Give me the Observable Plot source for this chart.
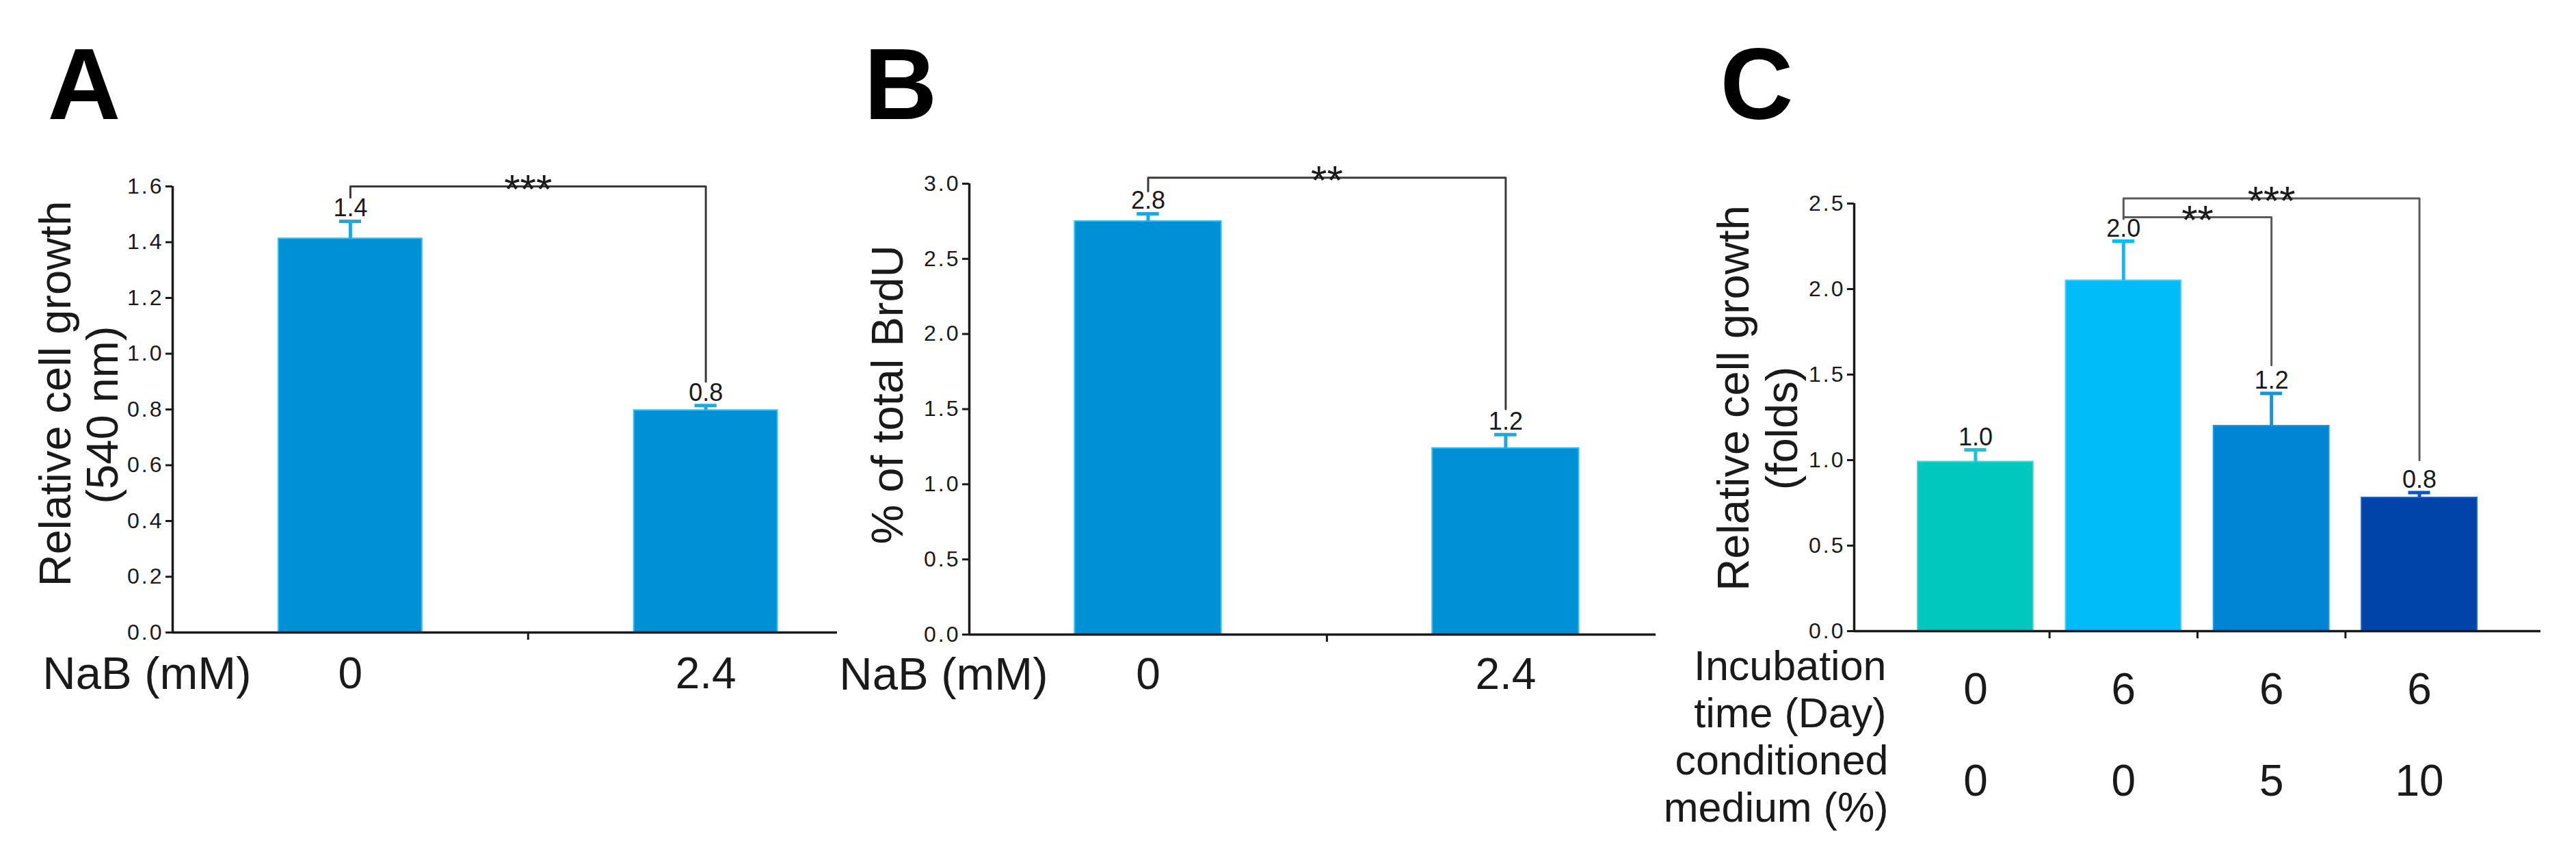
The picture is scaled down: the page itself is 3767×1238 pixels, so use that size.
<!DOCTYPE html>
<html>
<head>
<meta charset="utf-8">
<script src="https://cdn.jsdelivr.net/npm/d3@7"></script>
<script src="https://cdn.jsdelivr.net/npm/@observablehq/plot@0.6"></script>
<style>
  html, body { margin: 0; padding: 0; background: #ffffff; }
  #figure { position: relative; width: 3767px; height: 1238px; overflow: hidden; background: #ffffff; }
  #figure > svg { position: absolute; top: 0; }
  g[aria-label="y-axis tick label"] text { letter-spacing: 3px; }
</style>
</head>
<body>
<div id="figure"></div>
<script>
// ---------------- data ----------------
// Panel A
const aGroups = ["0", "2.4"];
const aValues = [1.413, 0.797];
const aErrors = [0.062, 0.017];
const aLabels = ["1.4", "0.8"];
const aTicks = [0, 0.2, 0.4, 0.6, 0.8, 1.0, 1.2, 1.4, 1.6];
const aTickLabels = ["0.0", "0.2", "0.4", "0.6", "0.8", "1.0", "1.2", "1.4", "1.6"];
const aBrackets = [{from: 0, to: 1, level: 1.6, leftEnd: 1.56, rightEnd: 0.90, stars: "***"}];
const aYTitle = ["Relative cell growth", "(540 nm)"];
const aXTitle = "NaB (mM)";

// Panel B
const bGroups = ["0", "2.4"];
const bValues = [2.75, 1.24];
const bErrors = [0.05, 0.09];
const bLabels = ["2.8", "1.2"];
const bTicks = [0, 0.5, 1.0, 1.5, 2.0, 2.5, 3.0];
const bTickLabels = ["0.0", "0.5", "1.0", "1.5", "2.0", "2.5", "3.0"];
const bBrackets = [{from: 0, to: 1, level: 3.04, leftEnd: 2.95, rightEnd: 1.50, stars: "**"}];
const bYTitle = ["% of total BrdU"];
const bXTitle = "NaB (mM)";

// Panel C
const cTime = ["0", "6", "6", "6"];
const cMedium = ["0", "0", "5", "10"];
const cValues = [0.99, 2.05, 1.20, 0.78];
const cErrors = [0.07, 0.23, 0.19, 0.03];
const cLabels = ["1.0", "2.0", "1.2", "0.8"];
const cTicks = [0, 0.5, 1.0, 1.5, 2.0, 2.5];
const cTickLabels = ["0.0", "0.5", "1.0", "1.5", "2.0", "2.5"];
const cBrackets = [
  {from: 1, to: 3, level: 2.53, leftEnd: 2.41, rightEnd: 1.00, stars: "***"},
  {from: 1, to: 2, level: 2.42, leftEnd: 2.42, rightEnd: 1.555, stars: "**"}
];
const cYTitle = ["Relative cell growth", "(folds)"];
const cRowTitles = ["Incubation\ntime (Day)", "conditioned\nmedium (%)"];

// ---------------- styles ----------------
const FONT = '"Liberation Sans", Arial, Helvetica, sans-serif';
const INK = "#1a1a1a";
const abFill = "#0090D5", abEdge = "#35C4F2", abErr = "#1EA8E2";
const cFills = ["#00C8BE", "#00BDFA", "#0084D4", "#0044AA"];
const cEdges = ["#3FD8D2", "#45D2FF", "#1A9CE6", "#2060C4"];
const cErrs = ["#14C6DA", "#00BFFF", "#1094E0", "#0A56C2"];

function drawPanel(cfg) {
  const data = cfg.values.map((v, i) => ({
    pos: cfg.pos(i), value: v, top: v + cfg.errors[i], label: cfg.labels[i],
    fill: cfg.fills[i], edge: cfg.edges[i], err: cfg.errColors[i]
  }));
  const paths = cfg.brackets.flatMap((b, k) => [
    {k, x: cfg.pos(b.from), y: b.leftEnd},
    {k, x: cfg.pos(b.from), y: b.level},
    {k, x: cfg.pos(b.to), y: b.level},
    {k, x: cfg.pos(b.to), y: b.rightEnd}
  ]);
  const hw = cfg.halfWidth, cap = cfg.capHalf;
  const marks = [
    Plot.rectY(data, {x1: d => d.pos - hw, x2: d => d.pos + hw, y1: 0, y2: "value",
      fill: "fill", stroke: "edge", strokeWidth: 2}),
    Plot.ruleX(data, {x: "pos", y1: "value", y2: "top", stroke: "err", strokeWidth: 5}),
    Plot.ruleY(data, {y: "top", x1: d => d.pos - cap, x2: d => d.pos + cap, stroke: "err", strokeWidth: 5}),
    Plot.ruleY([0], {stroke: INK, strokeWidth: 3.5}),
    Plot.ruleX([cfg.xDomain[0]], {stroke: INK, strokeWidth: 3.5}),
    Plot.axisY({ticks: cfg.yTicks, tickFormat: (d, i) => cfg.yTickLabels[i], tickSize: 10, tickPadding: 3,
      fontSize: 32, color: INK, strokeWidth: 3, label: null}),
    Plot.axisX({ticks: cfg.xTicks, tickFormat: () => "", tickSize: 11, color: INK, strokeWidth: 3, label: null}),
    Plot.line(paths, {x: "x", y: "y", z: "k", stroke: cfg.bracketColor, strokeWidth: 3}),
    Plot.text(cfg.brackets, {x: b => (cfg.pos(b.from) + cfg.pos(b.to)) / 2, y: "level", text: "stars",
      lineAnchor: "bottom", dy: 24, fontSize: 60, fill: INK}),
    Plot.text(data, {x: "pos", y: "top", text: "label", lineAnchor: "bottom", dy: -7, fontSize: 36, fill: INK}),
    Plot.text([cfg.letter], {frameAnchor: "top-left", text: d => d, textAnchor: "start", lineAnchor: "bottom",
      dx: cfg.letterDx, dy: cfg.letterDy, fontSize: 148, fontWeight: "bold", fill: "#000"})
  ];
  cfg.yTitle.forEach((t, j) => marks.push(
    Plot.text([t], {frameAnchor: "left", text: d => d, rotate: -90, textAnchor: "middle", lineAnchor: "bottom",
      dx: cfg.yTitleDx[j], dy: cfg.yTitleDy[j], fontSize: 65, fill: INK})
  ));
  cfg.rows.forEach(r => {
    marks.push(Plot.text(r.values, {x: (d, i) => cfg.pos(i), frameAnchor: "bottom", text: d => d,
      lineAnchor: "middle", dy: r.dy, fontSize: 64, fill: INK}));
    marks.push(Plot.text([r.title], {frameAnchor: "bottom-left", text: d => d, textAnchor: "end",
      lineAnchor: "middle", lineHeight: r.lineHeight || 1, dx: r.titleDx, dy: r.titleDy,
      fontSize: r.titleSize, fill: INK}));
  });
  const svg = Plot.plot({
    width: cfg.width, height: 1238,
    marginLeft: cfg.marginLeft, marginRight: cfg.marginRight,
    marginTop: cfg.marginTop, marginBottom: cfg.marginBottom,
    x: {type: "linear", domain: cfg.xDomain},
    y: {type: "linear", domain: cfg.yDomain},
    color: {type: "identity"},
    style: {fontFamily: FONT, background: "transparent", overflow: "visible", color: INK},
    marks
  });
  svg.style.left = cfg.left + "px";
  document.getElementById("figure").append(svg);
}

// Panel A
drawPanel({
  left: 0, width: 1226, marginLeft: 252, marginRight: 2, marginTop: 272, marginBottom: 314,
  xDomain: [0, 1.87], yDomain: [0, 1.6], pos: i => i + 0.5, halfWidth: 0.202, capHalf: 0.031,
  values: aValues, errors: aErrors, labels: aLabels,
  fills: aValues.map(() => abFill), edges: aValues.map(() => abEdge), errColors: aValues.map(() => abErr),
  yTicks: aTicks, yTickLabels: aTickLabels, xTicks: [1],
  brackets: aBrackets, bracketColor: "#3a3a3a",
  letter: "A", letterDx: -183, letterDy: -99,
  yTitle: aYTitle, yTitleDx: [-150, -81], yTitleDy: [-23, 8],
  rows: [{values: aGroups, dy: 61, title: aXTitle, titleSize: 67, titleDx: 115, titleDy: 61}]
});

// Panel B
drawPanel({
  left: 1226, width: 1196, marginLeft: 191, marginRight: 1, marginTop: 268, marginBottom: 311,
  xDomain: [0, 1.92], yDomain: [0, 3.0], pos: i => i + 0.5, halfWidth: 0.205, capHalf: 0.031,
  values: bValues, errors: bErrors, labels: bLabels,
  fills: bValues.map(() => abFill), edges: bValues.map(() => abEdge), errColors: bValues.map(() => abErr),
  yTicks: bTicks, yTickLabels: bTickLabels, xTicks: [1],
  brackets: bBrackets, bracketColor: "#3a3a3a",
  letter: "B", letterDx: -154, letterDy: -95,
  yTitle: bYTitle, yTitleDx: [-98], yTitleDy: [-21],
  rows: [{values: bGroups, dy: 59, title: bXTitle, titleSize: 67, titleDx: 115, titleDy: 59}]
});

// Panel C
drawPanel({
  left: 2422, width: 1345, marginLeft: 289, marginRight: 52, marginTop: 297, marginBottom: 316,
  xDomain: [-0.82, 3.82], yDomain: [0, 2.5], pos: i => i, halfWidth: 0.39, capHalf: 0.074,
  values: cValues, errors: cErrors, labels: cLabels,
  fills: cFills, edges: cEdges, errColors: cErrs,
  yTicks: cTicks, yTickLabels: cTickLabels, xTicks: [0.5, 1.5, 2.5],
  brackets: cBrackets, bracketColor: "#5a5a5a",
  letter: "C", letterDx: -196, letterDy: -124,
  yTitle: cYTitle, yTitleDx: [-155, -84], yTitleDy: [-28, 16],
  rows: [
    {values: cTime, dy: 86, title: cRowTitles[0], titleSize: 61, lineHeight: 1.131, titleDx: 47, titleDy: 84},
    {values: cMedium, dy: 220, title: cRowTitles[1], titleSize: 61, lineHeight: 1.131, titleDx: 50, titleDy: 222}
  ]
});
</script>
</body>
</html>
